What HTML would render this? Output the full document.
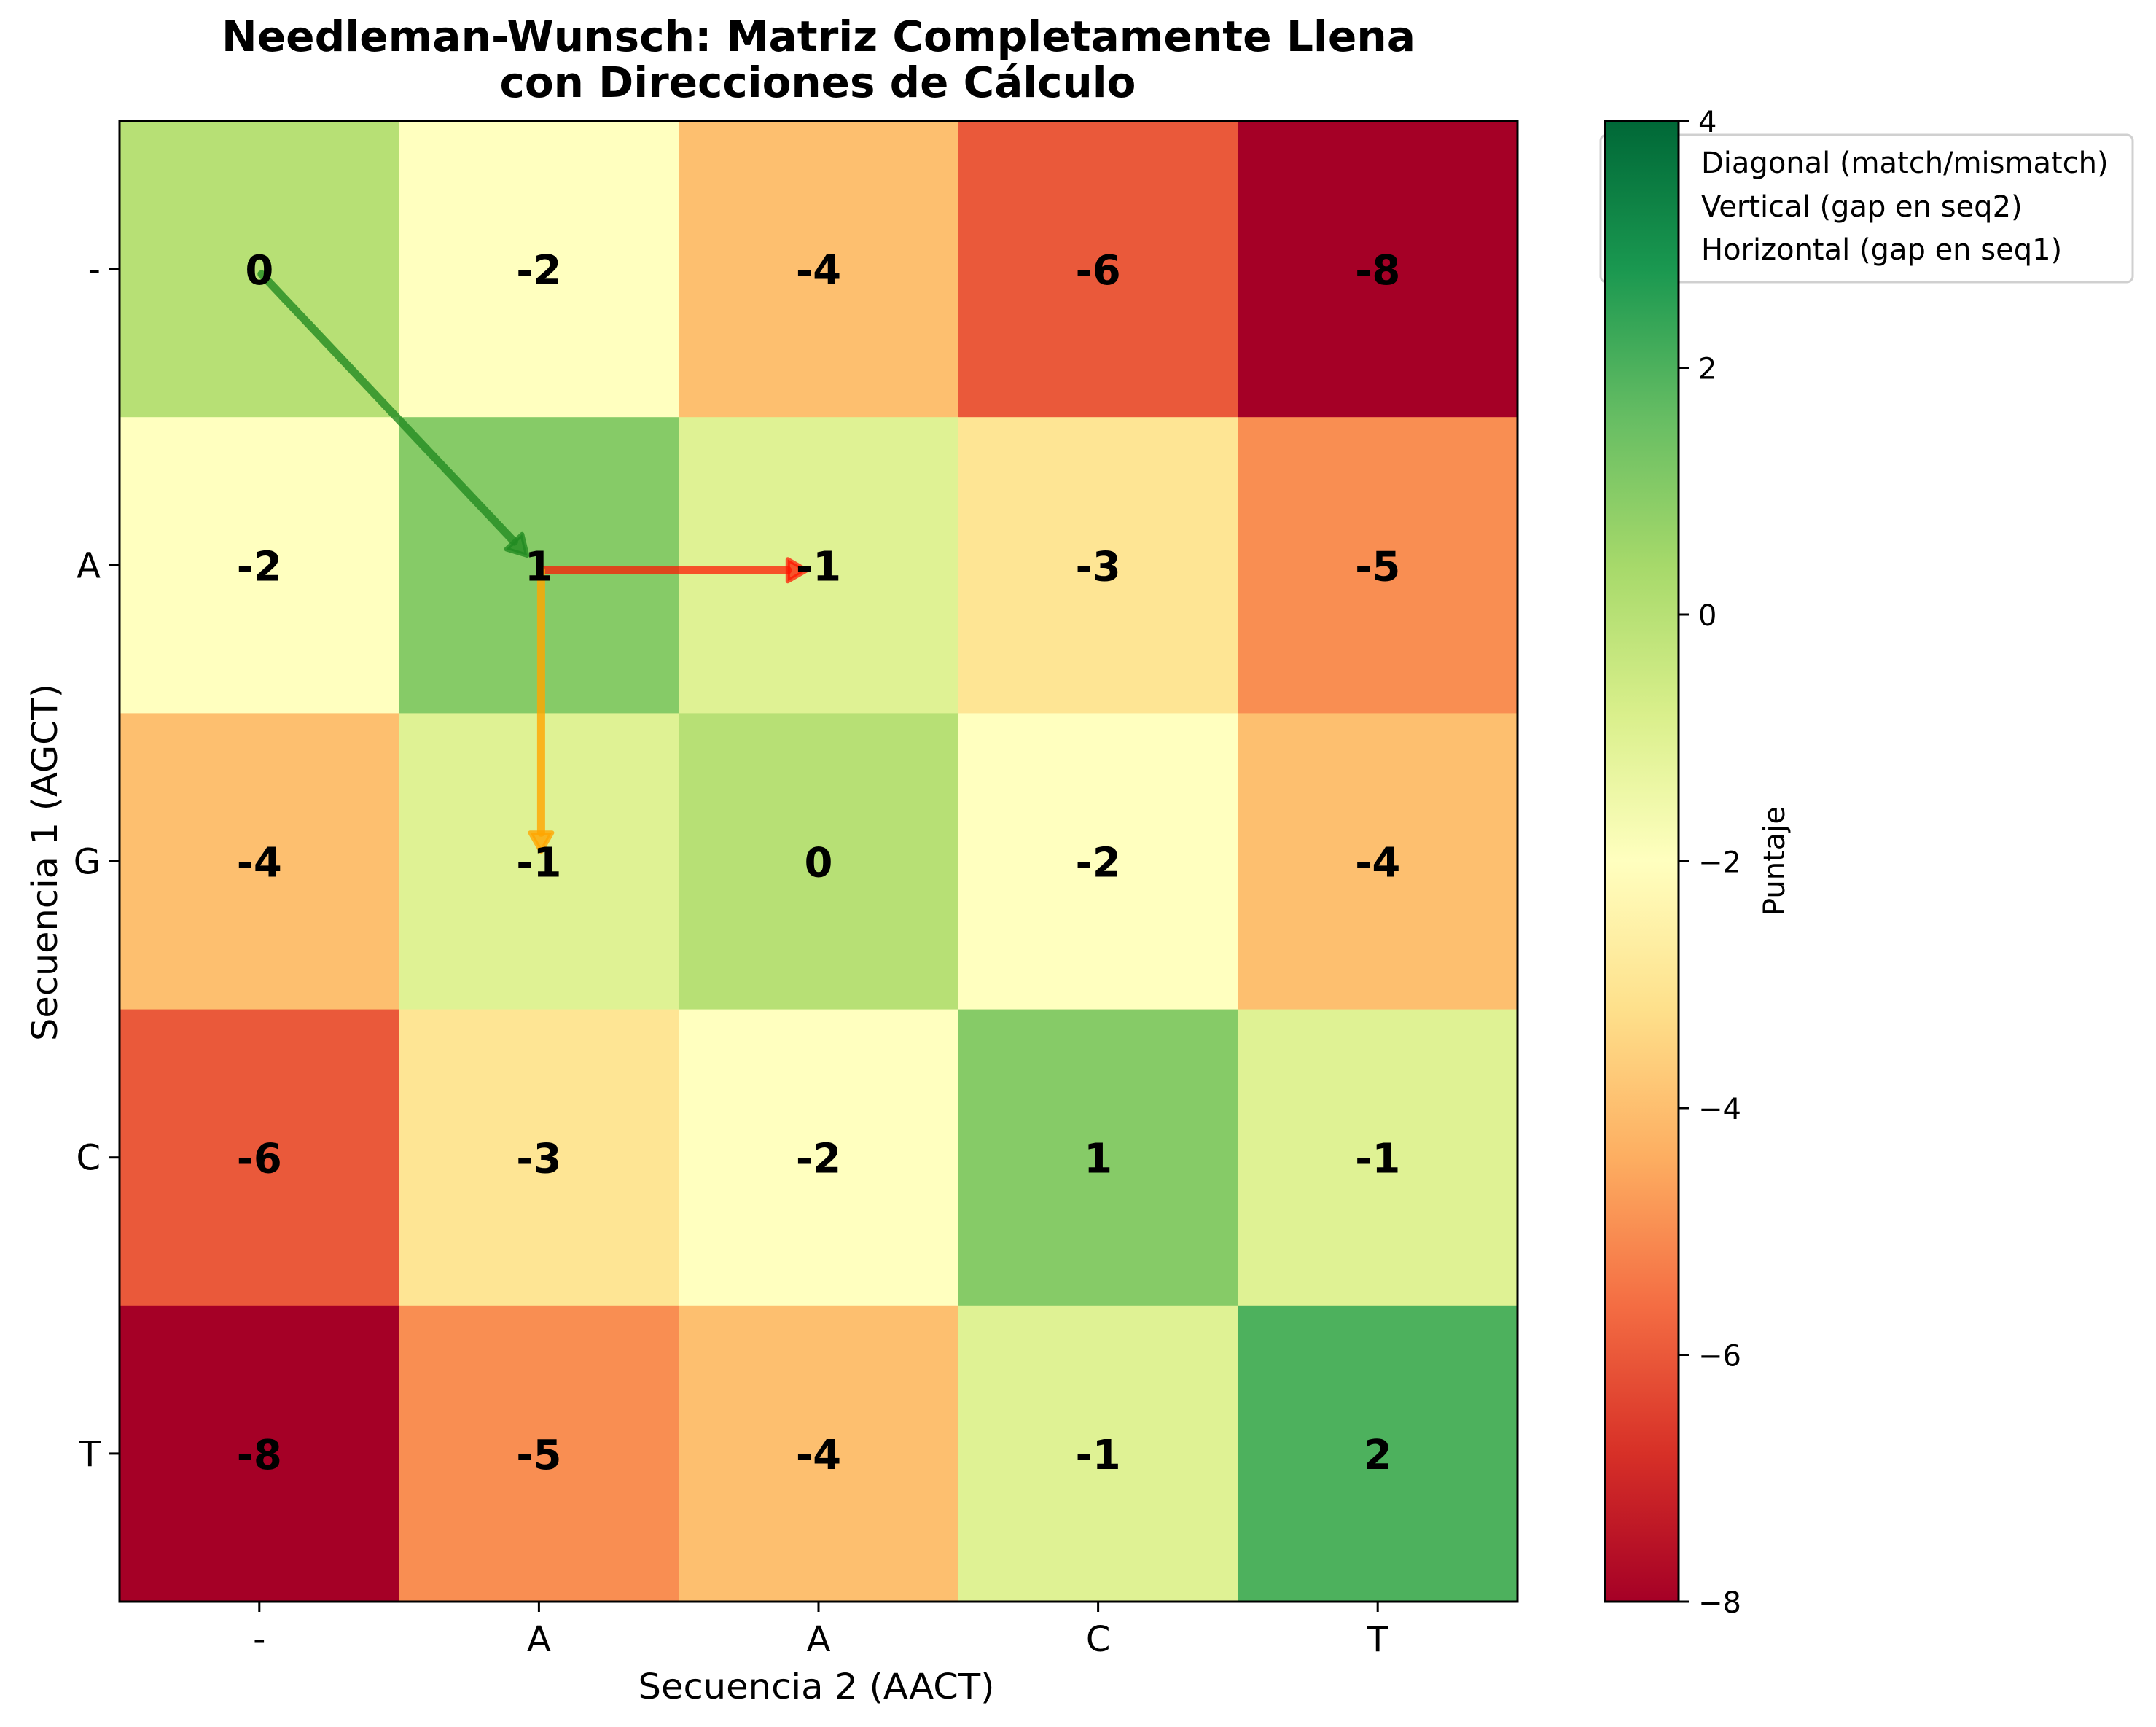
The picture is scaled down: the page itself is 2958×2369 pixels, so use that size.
<!DOCTYPE html>
<html><head><meta charset="utf-8"><style>
html,body{margin:0;padding:0;background:#fff;}
svg{display:block;font-family:"DejaVu Sans","Liberation Sans",sans-serif;}
</style></head><body>
<svg id="chart" width="2958" height="2369" viewBox="0 0 2958 2369" xmlns="http://www.w3.org/2000/svg">
<defs>
<linearGradient id="cbgrad" x1="0" y1="1" x2="0" y2="0">
<stop offset="0" stop-color="#a50026"/><stop offset="0.1" stop-color="#d73027"/><stop offset="0.2" stop-color="#f46d43"/><stop offset="0.3" stop-color="#fdae61"/><stop offset="0.4" stop-color="#fee08b"/><stop offset="0.5" stop-color="#ffffbf"/><stop offset="0.6" stop-color="#d9ef8b"/><stop offset="0.7" stop-color="#a6d96a"/><stop offset="0.8" stop-color="#66bd63"/><stop offset="0.9" stop-color="#1a9850"/><stop offset="1" stop-color="#006837"/>
</linearGradient>
</defs>
<g id="cells"></g>
<g id="arrows"></g>
<g id="labels"></g>
<rect x="164" y="166" width="1918" height="2031" fill="none" stroke="#000" stroke-width="3"/>
<g id="ticks"></g>
<text x="1123" y="70" font-size="58" font-weight="bold" text-anchor="middle" textLength="1638" lengthAdjust="spacingAndGlyphs">Needleman-Wunsch: Matriz Completamente Llena</text>
<text x="1122" y="133" font-size="58" font-weight="bold" text-anchor="middle" textLength="873" lengthAdjust="spacingAndGlyphs">con Direcciones de Cálculo</text>
<text x="1120" y="2330" font-size="48" text-anchor="middle" textLength="489" lengthAdjust="spacingAndGlyphs">Secuencia 2 (AACT)</text>
<text transform="translate(78,1183) rotate(-90)" font-size="48" text-anchor="middle" textLength="490" lengthAdjust="spacingAndGlyphs">Secuencia 1 (AGCT)</text>
<g>
<rect x="2196" y="185" width="730" height="202" rx="8" fill="#fff" stroke="#d0d0d0" stroke-width="3"/>
<text x="2334" y="237" font-size="40">Diagonal (match/mismatch)</text>
<text x="2334" y="297" font-size="40">Vertical (gap en seq2)</text>
<text x="2334" y="356" font-size="40">Horizontal (gap en seq1)</text>
</g>
<rect x="2202" y="166" width="101" height="2031" fill="url(#cbgrad)" stroke="#000" stroke-width="3"/>
<g id="cbticks"></g>
<text transform="translate(2448,1181) rotate(-90)" font-size="40" text-anchor="middle">Puntaje</text>
</svg>
<script>
const rowLabels = ["-","A","G","C","T"];
const colLabels = ["-","A","A","C","T"];
const row0 = [0,-2,-4,-6,-8];
const row1 = [-2,1,-1,-3,-5];
const row2 = [-4,-1,0,-2,-4];
const row3 = [-6,-3,-2,1,-1];
const row4 = [-8,-5,-4,-1,2];
const scores = [row0,row1,row2,row3,row4];
const cbTicks = [4,2,0,-2,-4,-6,-8];
const arrowFrom = [[0,0],[1,1],[1,1]];
const arrowTo = [[1,1],[1,2],[2,1]];
const arrowColors = ["rgba(34,139,34,0.8)","rgba(255,20,0,0.72)","rgba(255,165,0,0.8)"];
const arrowNames = ["arrow-diagonal","arrow-horizontal","arrow-vertical"];
const vmin=-8, vmax=4;
const L=164,T=166,W=1918,H=2031,n=5;
const cw=W/n, ch=H/n;
const cbTop=166, cbBot=2197;
const NS="http://www.w3.org/2000/svg";
const anchors=["#a50026","#d73027","#f46d43","#fdae61","#fee08b","#ffffbf","#d9ef8b","#a6d96a","#66bd63","#1a9850","#006837"];
function hex(h){return [1,3,5].map(i=>parseInt(h.substr(i,2),16));}
function cmap(v){let t=(v-vmin)/(vmax-vmin);t=Math.max(0,Math.min(1,t));const p=t*10;const i=Math.min(9,Math.floor(p));const f=p-i;const a=hex(anchors[i]),b=hex(anchors[i+1]);return "rgb("+a.map((c,k)=>Math.round(c+(b[k]-c)*f)).join(",")+")";}
function xc(j){return L+cw*(j+0.5);}
function yc(i){return T+ch*(i+0.5);}
function cbY(v){return cbBot-(v-vmin)/(vmax-vmin)*(cbBot-cbTop);}
function mk(tag,attrs,parent){const e=document.createElementNS(NS,tag);for(const k in attrs)e.setAttribute(k,attrs[k]);parent.appendChild(e);return e;}
const gc=document.getElementById("cells"), gl=document.getElementById("labels"), ga=document.getElementById("arrows"), gt=document.getElementById("ticks"), gcb=document.getElementById("cbticks");
for(let i=0;i<n;i++)for(let j=0;j<n;j++){
 const r=mk("rect",{x:L+cw*j,y:T+ch*i,width:cw+0.6,height:ch+0.6,fill:cmap(scores[i][j])},gc);
 
 
 const t=mk("text",{x:xc(j),y:yc(i)+21,"font-size":56,"font-weight":"bold","text-anchor":"middle"},gl);
 t.textContent=scores[i][j];
 
 
}
for(let k=0;k<arrowFrom.length;k++){
 const x1=xc(arrowFrom[k][1])+3,y1=yc(arrowFrom[k][0])+7;
 const x2t=xc(arrowTo[k][1])+3,y2t=yc(arrowTo[k][0])+7;
 const x2=x1+(x2t-x1)*0.95,y2=y1+(y2t-y1)*0.95;
 const g=mk("g",{},ga);
 
 
 const ang=Math.atan2(y2-y1,x2-x1), hl=26, hw=15;
 const bx=x2-hl*Math.cos(ang), by=y2-hl*Math.sin(ang);
 mk("line",{x1:x1,y1:y1,x2:bx,y2:by,stroke:arrowColors[k],"stroke-width":11,"stroke-linecap":"round"},g);
 const px=-Math.sin(ang),py=Math.cos(ang);
 mk("polygon",{points:`${x2},${y2} ${bx+px*hw},${by+py*hw} ${bx-px*hw},${by-py*hw}`,fill:arrowColors[k],stroke:arrowColors[k],"stroke-width":6,"stroke-linejoin":"round"},g);
}
for(let j=0;j<n;j++){
 const tk=mk("line",{x1:xc(j),y1:T+H,x2:xc(j),y2:T+H+14,stroke:"#000","stroke-width":3},gt);
 
 
 const t=mk("text",{x:xc(j),y:2265,"font-size":48,"text-anchor":"middle"},gt);
 t.textContent=colLabels[j];
 
 
}
for(let i=0;i<n;i++){
 const tk=mk("line",{x1:L-14,y1:yc(i),x2:L,y2:yc(i),stroke:"#000","stroke-width":3},gt);
 
 
 const t=mk("text",{x:L-26,y:yc(i)+17,"font-size":48,"text-anchor":"end"},gt);
 t.textContent=rowLabels[i];
 
 
}
for(const v of cbTicks){
 const y=cbY(v);
 const tk=mk("line",{x1:2303,y1:y,x2:2317,y2:y,stroke:"#000","stroke-width":3},gcb);
 
 
 const t=mk("text",{x:2330,y:y+15,"font-size":40},gcb);
 t.textContent=v<0?"\u2212"+Math.abs(v):String(v);
 
 
}
</script>
</body></html>
